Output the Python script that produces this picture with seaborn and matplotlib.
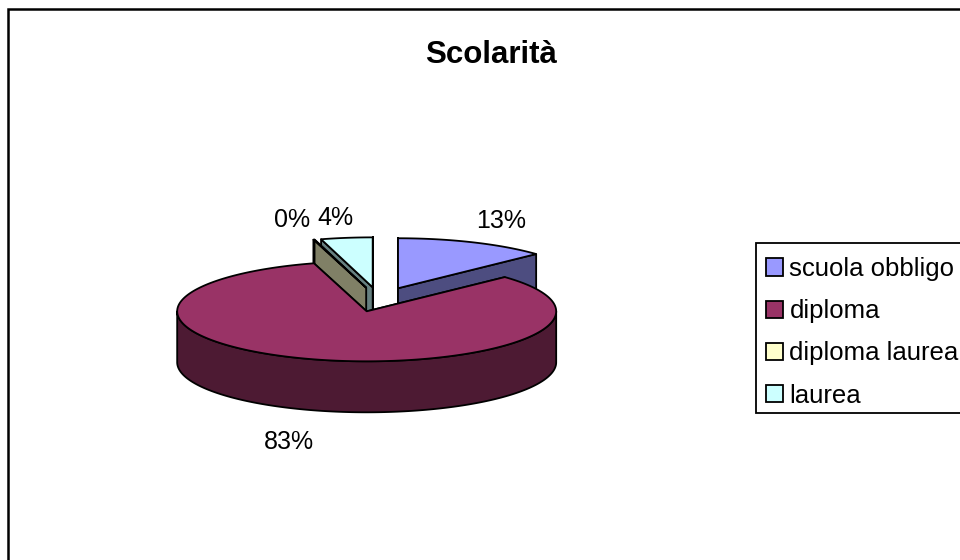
import numpy as np
import matplotlib
matplotlib.use("Agg")
import matplotlib.pyplot as plt
from matplotlib.patches import Patch, Polygon
import seaborn as sns

title = "Scolarità"
categories = ["scuola obbligo", "diploma", "diploma laurea", "laurea"]
shares = [13.0, 82.51, 0.1, 4.39]
colors = ["#9999FF", "#993366", "#FFFFCC", "#CCFFFF"]

sns.set_theme(style="white")
plt.rcParams["font.family"] = ["Liberation Sans", "DejaVu Sans"]
palette = sns.color_palette(colors)
shades = [tuple(c * 0.5 for c in col) for col in palette]

fig = plt.figure(figsize=(9.6, 5.6), dpi=100, facecolor="white")
ax = fig.add_axes([0, 0, 1, 1])
ax.set_xlim(0, 960)
ax.set_ylim(560, 0)
ax.axis("off")

# outer chart frame (right and bottom edges fall outside the picture)
ax.add_patch(plt.Rectangle((8, 9), 1000, 1000, fc="white", ec="black", lw=1.8, zorder=0))

# projected pie geometry
CX, CY, RX, RY, DEPTH = 379.2, 299.5, 189.5, 50.0, 51.0
EXPLODE_X, EXPLODE_Y = 0.25, 0.245
LW = 1.3


def point(c, a):
    return np.array([c[0] + RX * np.sin(a), c[1] - RY * np.cos(a)])


def arc(c, a0, a1):
    n = max(2, int(np.degrees(abs(a1 - a0))) + 2)
    return np.array([point(c, a) for a in np.linspace(a0, a1, n)])


def poly(pts, color, z):
    ax.add_patch(Polygon(pts, closed=True, fc=color, ec="black", lw=LW, joinstyle="round", zorder=z))


edges = np.radians(np.cumsum([0] + shares) * 3.6)
z = 1
for i in [0, 3, 2, 1]:
    a0, a1 = edges[i], edges[i + 1]
    mid = (a0 + a1) / 2
    c = (CX + EXPLODE_X * RX * np.sin(mid), CY - EXPLODE_Y * RY * np.cos(mid))
    down = np.array([0, DEPTH])
    apex = np.array(c)
    for a in (a0, a1):
        p = point(c, a)
        poly([apex, p, p + down, apex + down], shades[i], z)
        z += 1
    lo, hi = max(a0, np.pi / 2), min(a1, 3 * np.pi / 2)
    if hi > lo:
        rim = arc(c, lo, hi)
        poly(np.vstack([rim, (rim + down)[::-1]]), shades[i], z)
        z += 1
    poly(np.vstack([[apex], arc(c, a0, a1)]), palette[i], z)
    z += 1

# percentage labels
label_xy = [(501, 221), (289, 442), (292, 220), (335, 218)]
for s, (x, y) in zip(shares, label_xy):
    ax.text(x, y, f"{round(s)}%", ha="center", va="center", fontsize=18, color="black", zorder=50)

ax.text(491, 55, title, ha="center", va="center", fontsize=22.5, fontweight="bold", color="black", zorder=50)

# legend box, with the library legend placed inside it
ax.add_patch(plt.Rectangle((756, 243), 300, 170, fc="white", ec="black", lw=LW, zorder=55))
handles = [Patch(fc=p, ec="black", lw=LW) for p in palette]
leg = ax.legend(
    handles, categories,
    loc="upper left", bbox_to_anchor=(766 / 960, 1 - 257 / 560),
    bbox_transform=ax.transAxes, borderaxespad=0,
    prop={"size": 18.5}, frameon=False,
    handlelength=0.65, handleheight=0.65, handletextpad=0.26,
    borderpad=0, labelspacing=0.71,
)
leg.set_zorder(60)
for t in leg.get_texts():
    t.set_color("black")

fig.savefig("out.png", dpi=100)
